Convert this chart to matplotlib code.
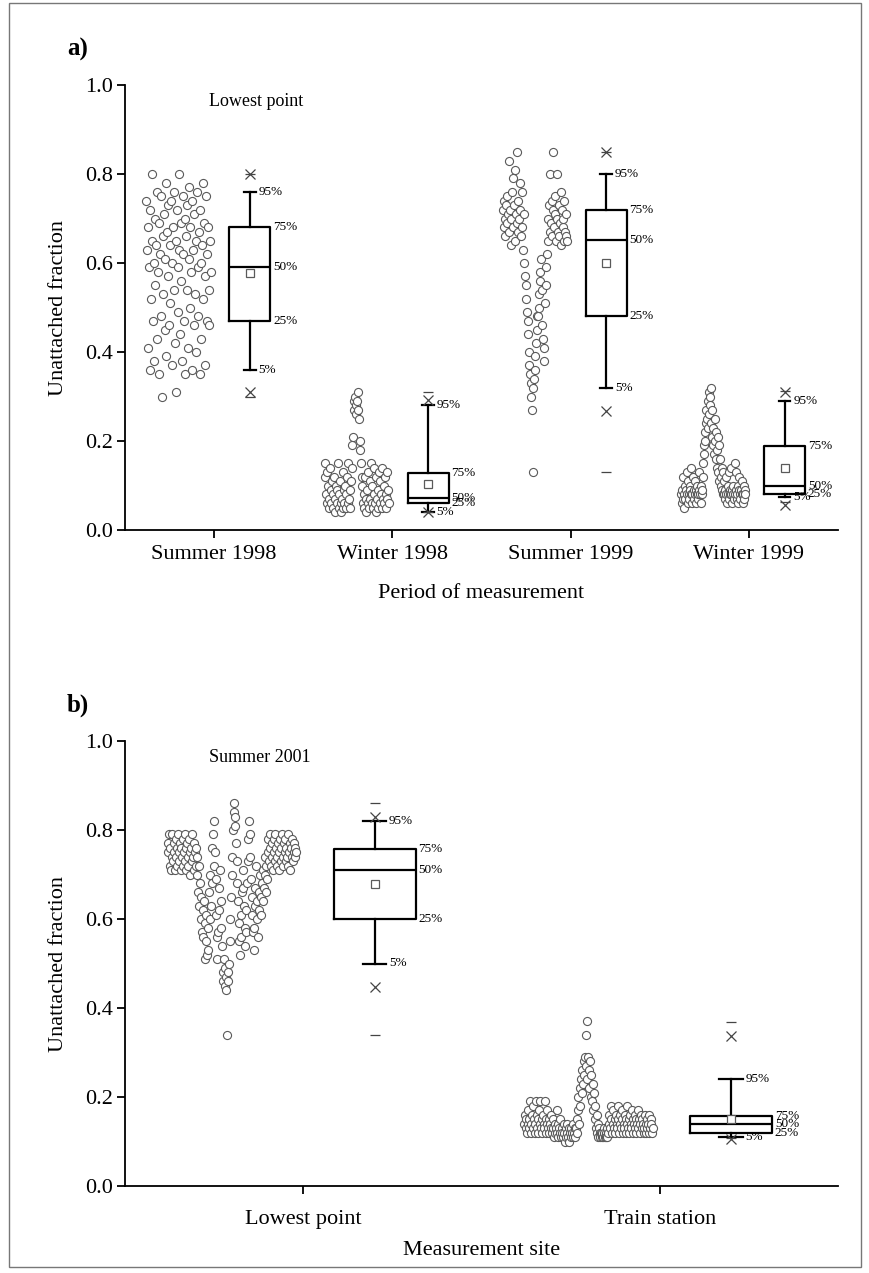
import numpy as np
import matplotlib
matplotlib.use('Agg')
from matplotlib import pyplot as plt
from matplotlib.patches import Rectangle

plt.rcParams['font.family'] = ['Liberation Serif', 'DejaVu Serif']

# ---- panel a: period of measurement (lowest point)
periods = ['Summer 1998', 'Winter 1998', 'Summer 1999', 'Winter 1999']

summer_1998 = [0.74, 0.63, 0.41, 0.68, 0.59, 0.36, 0.72, 0.52, 0.65, 0.80, 0.47, 0.60, 0.38, 0.70,
               0.55, 0.64, 0.43, 0.76, 0.58, 0.35, 0.69, 0.62, 0.48, 0.75, 0.30, 0.66, 0.53, 0.71,
               0.45, 0.61, 0.78, 0.39, 0.67, 0.57, 0.73, 0.46, 0.64, 0.51, 0.74, 0.37, 0.60, 0.68,
               0.54, 0.76, 0.42, 0.65, 0.31, 0.72, 0.59, 0.49, 0.63, 0.80, 0.44, 0.69, 0.56, 0.38,
               0.75, 0.62, 0.47, 0.70, 0.35, 0.66, 0.54, 0.73, 0.41, 0.61, 0.77, 0.50, 0.68, 0.58,
               0.36, 0.74, 0.63, 0.46, 0.71, 0.53, 0.65, 0.40, 0.76, 0.59, 0.48, 0.67, 0.35, 0.72,
               0.60, 0.43, 0.64, 0.78, 0.52, 0.69, 0.57, 0.37, 0.75, 0.62, 0.47, 0.68, 0.54, 0.46,
               0.65, 0.58]
winter_1998 = [0.15, 0.12, 0.08, 0.06, 0.13, 0.10, 0.05, 0.07, 0.14, 0.09, 0.06, 0.11, 0.05, 0.08,
               0.12, 0.04, 0.07, 0.10, 0.06, 0.09, 0.15, 0.05, 0.08, 0.11, 0.06, 0.04, 0.07, 0.13,
               0.05, 0.09, 0.06, 0.10, 0.05, 0.08, 0.12, 0.06, 0.15, 0.07, 0.05, 0.09,
               0.11, 0.14, 0.19, 0.21, 0.27, 0.29, 0.30, 0.28, 0.26, 0.29, 0.31, 0.27, 0.25, 0.20,
               0.18, 0.15, 0.12, 0.10,
               0.06, 0.08, 0.05, 0.12, 0.07, 0.04, 0.09, 0.06, 0.13, 0.05, 0.11, 0.07, 0.15, 0.06,
               0.10, 0.05, 0.08, 0.14, 0.06, 0.12, 0.04, 0.07, 0.09, 0.05, 0.13, 0.06, 0.11, 0.08,
               0.05, 0.14, 0.07, 0.10, 0.06, 0.12, 0.08, 0.05, 0.13, 0.07, 0.09, 0.06]
summer_1999 = [0.72, 0.68, 0.74, 0.70, 0.66, 0.73, 0.69, 0.75, 0.71, 0.67, 0.83, 0.72, 0.64, 0.70,
               0.76, 0.68, 0.79, 0.73, 0.65, 0.81, 0.71, 0.69, 0.85, 0.74, 0.67, 0.70, 0.78, 0.72,
               0.66, 0.76, 0.68, 0.63, 0.71,
               0.60, 0.57, 0.55, 0.52, 0.49, 0.47, 0.44, 0.40, 0.37, 0.35, 0.33, 0.30, 0.27, 0.13,
               0.32, 0.34, 0.36, 0.39, 0.42, 0.45, 0.48, 0.48, 0.50, 0.53, 0.56, 0.58, 0.61, 0.54,
               0.46, 0.43, 0.38, 0.41, 0.51, 0.55, 0.59, 0.62,
               0.65, 0.70, 0.73, 0.67, 0.80, 0.69, 0.74, 0.66, 0.72, 0.85, 0.68, 0.71, 0.75, 0.65,
               0.80, 0.70, 0.67, 0.73, 0.66, 0.69, 0.76, 0.64, 0.72, 0.68, 0.70, 0.65, 0.74, 0.67,
               0.66, 0.71, 0.65]
winter_1999 = [0.08, 0.06, 0.09, 0.07, 0.12, 0.08, 0.05, 0.10, 0.07, 0.09, 0.13, 0.08, 0.06, 0.11,
               0.08, 0.07, 0.10, 0.09, 0.14, 0.08, 0.06, 0.08, 0.12, 0.09, 0.07, 0.08, 0.11, 0.06,
               0.09, 0.08, 0.10, 0.07, 0.08, 0.13, 0.09, 0.08, 0.06, 0.10, 0.08, 0.09,
               0.12, 0.15, 0.17, 0.19, 0.22, 0.20, 0.24, 0.27, 0.25, 0.23, 0.29, 0.31, 0.26, 0.30,
               0.28, 0.32, 0.24, 0.21, 0.27, 0.19, 0.23, 0.17, 0.25, 0.20, 0.16, 0.22, 0.18, 0.14,
               0.21, 0.13, 0.19, 0.11, 0.16, 0.12, 0.10, 0.14, 0.09, 0.13, 0.08, 0.11,
               0.08, 0.09, 0.07, 0.12, 0.08, 0.06, 0.10, 0.08, 0.13, 0.07, 0.09, 0.08, 0.14, 0.08,
               0.06, 0.09, 0.08, 0.10, 0.07, 0.15, 0.08, 0.09, 0.13, 0.07, 0.08, 0.10, 0.06, 0.09,
               0.12, 0.08, 0.07, 0.09, 0.08, 0.11, 0.06, 0.08, 0.10, 0.07, 0.09, 0.08]

# box statistics
a_p5 = [0.36, 0.04, 0.32, 0.075]
a_p25 = [0.47, 0.06, 0.48, 0.081]
a_p50 = [0.59, 0.072, 0.652, 0.10]
a_p75 = [0.68, 0.129, 0.72, 0.189]
a_p95 = [0.76, 0.281, 0.80, 0.29]
a_mean = [0.577, 0.103, 0.60, 0.14]
a_p1 = [0.31, 0.04, 0.268, 0.056]
a_p99 = [0.80, 0.292, 0.849, 0.31]
a_min = [0.30, 0.04, 0.13, 0.062]
a_max = [0.80, 0.31, 0.85, 0.312]

# ---- panel b: measurement site (summer 2001)
sites = ['Lowest point', 'Train station']

lowest_point = [0.77, 0.75, 0.79, 0.72, 0.76, 0.71, 0.74, 0.79, 0.73, 0.77, 0.75, 0.71, 0.78, 0.74,
                0.76, 0.72, 0.79, 0.75, 0.73, 0.77, 0.71, 0.76, 0.74, 0.78, 0.72, 0.75, 0.79, 0.73,
                0.76, 0.71, 0.77, 0.74, 0.72, 0.78, 0.75, 0.70, 0.76, 0.73, 0.79, 0.74, 0.71, 0.77,
                0.75, 0.72, 0.76,
                0.74, 0.70, 0.66, 0.72, 0.63, 0.68, 0.60, 0.65, 0.57, 0.62, 0.56, 0.64, 0.51, 0.59,
                0.55, 0.61, 0.52, 0.58, 0.53, 0.66, 0.60, 0.70, 0.63, 0.76, 0.68, 0.79, 0.72, 0.82,
                0.75, 0.69, 0.61, 0.56, 0.51, 0.57, 0.62, 0.67, 0.71, 0.64, 0.58, 0.54, 0.48, 0.46,
                0.51, 0.45, 0.49, 0.44, 0.47, 0.34, 0.46, 0.48, 0.50, 0.55, 0.60, 0.65, 0.70, 0.74,
                0.80, 0.84, 0.86, 0.83, 0.81, 0.77, 0.73, 0.68, 0.64, 0.59, 0.55, 0.52, 0.56, 0.61,
                0.66, 0.71, 0.67, 0.63, 0.58, 0.54, 0.57, 0.62, 0.68, 0.73, 0.78, 0.82, 0.79, 0.74,
                0.69, 0.65, 0.61, 0.57, 0.53, 0.58, 0.63, 0.67, 0.72, 0.64, 0.60, 0.56, 0.62, 0.66,
                0.70, 0.65, 0.61, 0.68, 0.64, 0.71, 0.67, 0.74, 0.70, 0.66, 0.72, 0.69,
                0.75, 0.78, 0.73, 0.76, 0.79, 0.72, 0.77, 0.74, 0.71, 0.78, 0.75, 0.73, 0.79, 0.76,
                0.72, 0.74, 0.77, 0.71, 0.75, 0.78, 0.73, 0.76, 0.79, 0.74, 0.72, 0.77, 0.75, 0.78,
                0.73, 0.76, 0.74, 0.79, 0.72, 0.75, 0.77, 0.71, 0.76, 0.74, 0.78, 0.73, 0.75, 0.77,
                0.76, 0.74, 0.75]
train_station = [0.14, 0.16, 0.13, 0.15, 0.12, 0.17, 0.14, 0.13, 0.15, 0.19, 0.12, 0.14, 0.16, 0.13,
                 0.18, 0.15, 0.12, 0.14, 0.19, 0.13, 0.16, 0.15, 0.12, 0.17, 0.14, 0.19, 0.13, 0.15,
                 0.12, 0.16, 0.14, 0.13, 0.19, 0.15, 0.12, 0.14, 0.17, 0.13, 0.15, 0.12, 0.14, 0.13,
                 0.16, 0.12, 0.15, 0.13, 0.11, 0.14, 0.12, 0.13, 0.17, 0.12, 0.14, 0.11, 0.13, 0.12,
                 0.15, 0.11, 0.13, 0.12, 0.11, 0.14, 0.12, 0.10, 0.13, 0.11, 0.12, 0.14, 0.11, 0.13,
                 0.10, 0.12, 0.11, 0.13, 0.12, 0.11, 0.14, 0.12, 0.13, 0.11,
                 0.13, 0.15, 0.12, 0.17, 0.20, 0.14, 0.22, 0.18, 0.24, 0.21, 0.26, 0.23, 0.28, 0.25,
                 0.29, 0.34, 0.27, 0.37, 0.24, 0.29, 0.26, 0.22, 0.28, 0.20, 0.25, 0.19, 0.23, 0.17,
                 0.21, 0.15, 0.18, 0.13, 0.16, 0.12, 0.14, 0.11, 0.13, 0.12, 0.11, 0.12,
                 0.11, 0.12, 0.11, 0.13, 0.12, 0.11, 0.12, 0.11, 0.13, 0.11, 0.12, 0.14, 0.16, 0.13,
                 0.18, 0.15, 0.12, 0.14, 0.17, 0.13, 0.15, 0.12, 0.16, 0.14, 0.13, 0.18, 0.15, 0.12,
                 0.14, 0.16, 0.13, 0.15, 0.17, 0.12, 0.14, 0.13, 0.16, 0.15, 0.12, 0.14, 0.18, 0.13,
                 0.15, 0.12, 0.16, 0.14, 0.13, 0.17, 0.15, 0.12, 0.14, 0.16, 0.13, 0.15, 0.12, 0.14,
                 0.17, 0.13, 0.15, 0.14, 0.12, 0.16, 0.13, 0.15, 0.14, 0.12, 0.13, 0.16, 0.14, 0.12,
                 0.15, 0.13, 0.14, 0.12, 0.16, 0.13, 0.15, 0.14, 0.12, 0.13]

b_p5 = [0.50, 0.111]
b_p25 = [0.60, 0.119]
b_p50 = [0.71, 0.139]
b_p75 = [0.758, 0.158]
b_p95 = [0.82, 0.24]
b_mean = [0.679, 0.151]
b_p1 = [0.448, 0.105]
b_p99 = [0.83, 0.338]
b_min = [0.34, 0.108]
b_max = [0.861, 0.369]

pct_names = ['95%', '75%', '50%', '25%', '5%']
GRAY = '#5a5a5a'


def draw_panel(ax, labels, groups, p5, p25, p50, p75, p95, mean, p1, p99, vmin, vmax):
    pos = np.arange(1, len(labels) + 1)
    box_w = 0.23
    cap_w = 0.066
    for i, vals in enumerate(groups):
        xs = pos[i] - 0.2 + np.linspace(-0.18, 0.18, len(vals))
        ax.scatter(xs, vals, s=34, facecolors='white', edgecolors=GRAY,
                   linewidths=0.8, zorder=3)
    stats = []
    for i in range(len(labels)):
        stats.append(dict(med=p50[i], q1=p25[i], q3=p75[i], whislo=p5[i],
                          whishi=p95[i], mean=mean[i], fliers=[]))
    bp = pos + 0.2
    ax.bxp(stats, positions=bp, widths=box_w, capwidths=cap_w, showmeans=True,
           boxprops=dict(color='black', linewidth=1.6),
           medianprops=dict(color='black', linewidth=1.6),
           whiskerprops=dict(color='black', linewidth=1.6),
           capprops=dict(color='black', linewidth=1.6),
           meanprops=dict(marker='s', markerfacecolor='white',
                          markeredgecolor=GRAY, markersize=6, markeredgewidth=0.9),
           manage_ticks=False)
    ax.plot(bp, p1, ls='none', marker='x', ms=7, mew=0.9, color='#444444')
    ax.plot(bp, p99, ls='none', marker='x', ms=7, mew=0.9, color='#444444')
    ax.plot(bp, vmin, ls='none', marker='_', ms=7, mew=0.9, color='#444444')
    ax.plot(bp, vmax, ls='none', marker='_', ms=7, mew=0.9, color='#444444')
    for i in range(len(labels)):
        vals = [p95[i], p75[i], p50[i], p25[i], p5[i]]
        xr = [bp[i] + cap_w / 2, bp[i] + box_w / 2, bp[i] + box_w / 2,
              bp[i] + box_w / 2, bp[i] + cap_w / 2]
        for name, x, y in zip(pct_names, xr, vals):
            ax.annotate(name, (x, y), xytext=(2, 0), textcoords='offset points',
                        va='center', ha='left', fontsize=9.5)

    ax.set_xlim(0.5, len(labels) + 0.5)
    ax.set_ylim(0, 1.0)
    ax.set_xticks(pos)
    ax.set_xticklabels(labels)
    ax.set_yticks(np.arange(0, 1.01, 0.2))
    ax.set_yticklabels(['%.1f' % v for v in np.arange(0, 1.01, 0.2)])
    ax.spines['top'].set_visible(False)
    ax.spines['right'].set_visible(False)
    for s in ['left', 'bottom']:
        ax.spines[s].set_linewidth(1.3)
    ax.tick_params(direction='out', length=5.5, width=1.3, labelsize=16)
    ax.tick_params(axis='y', pad=3)
    ax.set_ylabel('Unattached fraction', fontsize=16)
    ax.yaxis.set_label_coords(-0.08, 0.5)


fig = plt.figure(figsize=(8.69, 12.73), dpi=100)
ax_a = fig.add_axes([125 / 869, 1 - 530 / 1273, 713 / 869, 445 / 1273])
ax_b = fig.add_axes([125 / 869, 1 - 1186 / 1273, 713 / 869, 445 / 1273])

draw_panel(ax_a, periods, [summer_1998, winter_1998, summer_1999, winter_1999],
           a_p5, a_p25, a_p50, a_p75, a_p95, a_mean, a_p1, a_p99, a_min, a_max)
draw_panel(ax_b, sites, [lowest_point, train_station],
           b_p5, b_p25, b_p50, b_p75, b_p95, b_mean, b_p1, b_p99, b_min, b_max)

ax_a.tick_params(axis='x', pad=5)
ax_b.tick_params(axis='x', pad=12)
ax_a.set_xlabel('Period of measurement', fontsize=16)
ax_a.xaxis.set_label_coords(0.5, -0.122)
ax_b.set_xlabel('Measurement site', fontsize=16)
ax_b.xaxis.set_label_coords(0.5, -0.124)

ax_a.text(0.97, 0.962, 'Lowest point', fontsize=13, va='center', ha='left')
ax_b.text(0.735, 0.962, 'Summer 2001', fontsize=13, va='center', ha='left')

fig.text(67 / 869, 1 - 56 / 1273, 'a)', fontsize=18, fontweight='bold', va='baseline')
fig.text(67 / 869, 1 - 712 / 1273, 'b)', fontsize=18, fontweight='bold', va='baseline')

fig.patches.append(Rectangle((9 / 869, 6 / 1273), 852 / 869, 1264 / 1273,
                             transform=fig.transFigure, fill=False,
                             edgecolor='#777777', linewidth=1.0))

fig.savefig('out.png', dpi=100)
